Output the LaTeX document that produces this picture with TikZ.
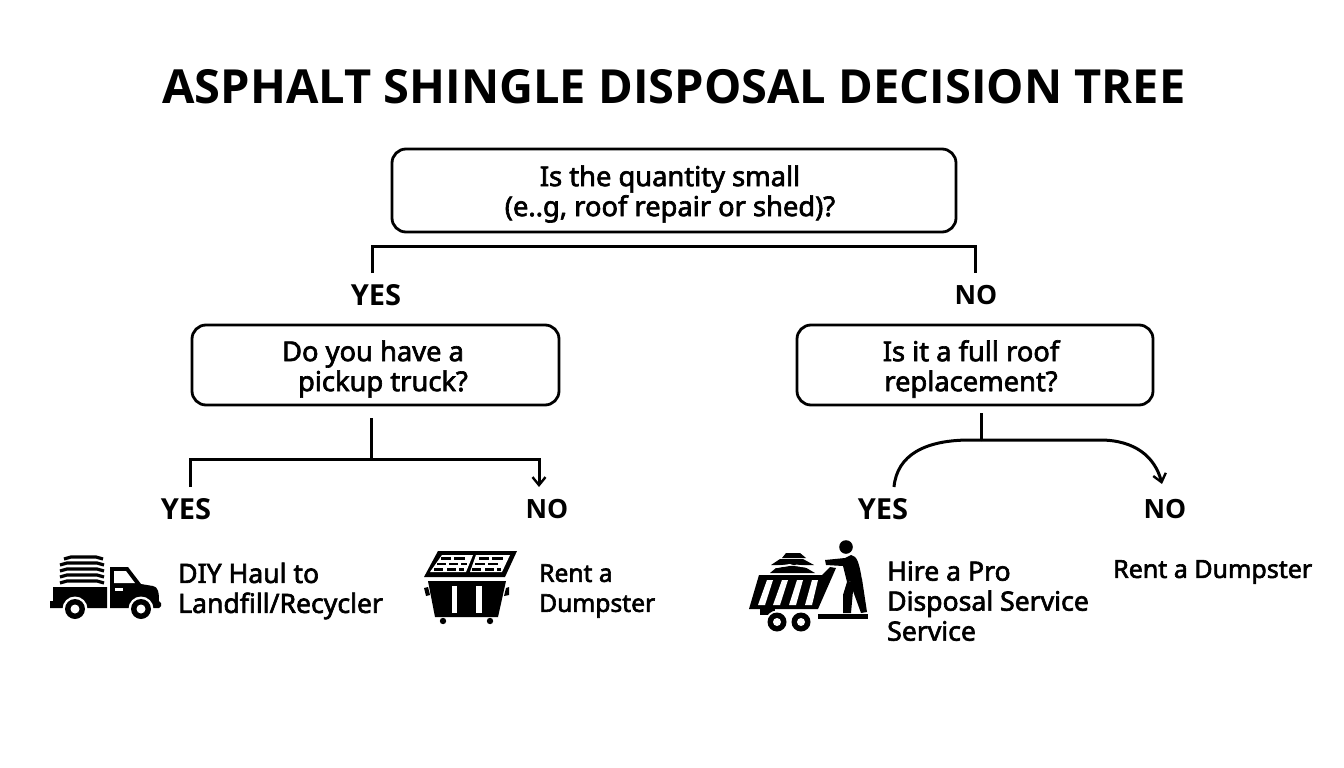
\documentclass[tikz,border=0pt]{standalone}
\usepackage{fontspec}
\setmainfont{Noto Sans}
\newfontfamily\ttlfont{Open Sans}
\newfontfamily\medfont[FakeBold=2.4]{Noto Sans}
\usetikzlibrary{arrows.meta}
\tikzset{
  x=1pt,y=-1pt,
  qbox/.style={draw=black,line width=2.8pt,rounded corners=14pt,fill=white,inner sep=0pt},
  conn/.style={draw=black,line width=3pt},
  arr/.style={conn,-{Straight Barb[length=8pt,width=13pt,line width=2.4pt]}},
  body/.style={font=\medfont\fontsize{27.3}{30}\selectfont,align=center,inner sep=0pt,text=black},
  laby/.style={font=\ttlfont\fontsize{29}{30}\bfseries,inner sep=0pt,text=black},
  labn/.style={font=\ttlfont\fontsize{26.5}{30}\bfseries,inner sep=0pt,text=black},
  res/.style={font=\medfont\fontsize{26.6}{30}\selectfont,align=left,inner sep=0pt,anchor=west,text=black},
  resb/.style={res,font=\medfont\fontsize{24.6}{30}\selectfont},
  resc/.style={res,font=\medfont\fontsize{25}{30}\selectfont},
  ink/.style={fill=black,draw=none},
  wht/.style={fill=white,draw=none},
}
\begin{document}
\begin{tikzpicture}
\useasboundingbox (0,0) rectangle (1344,768);
\fill[white] (0,0) rectangle (1344,768);
\node[inner sep=0pt,font=\ttlfont\fontsize{47}{50}\bfseries,text=black] (title) at (674,87) {ASPHALT SHINGLE DISPOSAL DECISION TREE};
% question boxes
\draw[qbox] (392,149) rectangle (956,232);
\node[body] (q1t) at (670,194) {Is the quantity small\\(e..g, roof repair or shed)?};
\draw[qbox] (192,325) rectangle (559,405);
\node[body] (q2t) at (373,369) {Do you have a\\\hspace*{20pt}pickup truck?};
\draw[qbox] (797,325) rectangle (1153,405);
\node[body] (q3t) at (971,369) {Is it a full roof\\replacement?};
% labels
\node[laby] (y1) at (376,295) {YES};
\node[labn] (n1) at (976,295) {NO};
\node[laby] (y2) at (186,509) {YES};
\node[labn] (n2) at (547,509) {NO};
\node[laby] (y3) at (883,509) {YES};
\node[labn] (n3) at (1165,509) {NO};
% connectors
\coordinate (t1) at (372,273);
\coordinate (t2) at (975,273);
\coordinate (c1) at (372,246);
\coordinate (c2) at (975,246);
\draw[conn] (t1) -- (c1) -- (c2) -- (t2);
\coordinate (s2) at (371,418);
\coordinate (j2) at (371,459);
\coordinate (l2) at (190,487);
\coordinate (r2) at (539,487);
\draw[conn] (s2) -- (j2);
\draw[conn] (l2) |- (j2);
\draw[arr] (j2) -| (r2);
\coordinate (s3) at (981,413);
\coordinate (j3) at (981,440);
\coordinate (l3) at (894,487);
\coordinate (r3) at (1162,484);
\draw[conn] (s3) -- (j3);
\draw[conn] (l3) .. controls (897,455) and (925,440) .. (970,440) -- (j3);
\draw[arr] (j3) -- (1100,440) .. controls (1135,440) and (1155,457) .. (r3);
% results
\node[res] (r1t) at (178,591) {DIY Haul to\\Landfill/Recycler};
\node[resb] (r2t) at (539,591) {Rent a\\Dumpster};
\node[res] (r3t) at (887,601) {Hire a Pro\\Disposal Service\\Service};
\node[resc] (r4t) at (1113,572) {Rent a Dumpster};
% truck icon
\begin{scope}
\fill[ink] (53,587) -- (107,587) -- (107,608) -- (50,608) -- (50,601) -- (53,601) -- cycle;
\fill[ink] (110,567) -- (128,567) -- (141,584) -- (153,586) .. controls (158,587) and (159,592) .. (159,601) -- (161,603) -- (161,606) -- (159,608) -- (110,608) -- cycle;
\fill[wht] (114,571) -- (126,571) -- (135,583) -- (114,583) -- cycle;
\fill[wht] (115,588) rectangle (123,591);
\foreach \yy/\xa/\xb in {557/64/103,563/60/104,569/60/104,575/60/104,581/60/104}{
  \draw[line width=3.2pt,black] (\xa,\yy+2) -- (\xa+7,\yy) -- (\xb-7,\yy) -- (\xb,\yy+2);
}
\foreach \cx in {75,141}{
  \fill[white] (\cx,609) circle (12.5);
  \fill[black] (\cx,609) circle (10);
  \fill[white] (\cx,609) circle (4.5);
}
\end{scope}
% dumpster icon
\begin{scope}
\fill[ink] (438,551) -- (517,551) -- (505,577) -- (424,577) -- cycle;
\fill[wht] (442,555) -- (473,555) -- (466,572) -- (430,572) -- cycle;
\fill[wht] (476,555) -- (510,555) -- (502,572) -- (470,572) -- cycle;
\foreach \xa/\yy/\ww in {441/557/10,454/557/11,437/562.5/9,449/562.5/9,461/562.5/6,434/568/9,447/568/9,459/568/5,479/557/10,492/557/11,475/562.5/10,488/562.5/10,472/568/9,485/568/9,497/568/4}{
  \fill[black] (\xa,\yy) rectangle (\xa+\ww,\yy+2.6);
}
\fill[ink] (428,581) -- (506,581) -- (498,617) -- (435,617) -- cycle;
\fill[wht] (452,586) rectangle (457,613);
\fill[wht] (476,586) rectangle (482,613);
\fill[ink] (424,588) -- (428,587) -- (430,595) -- (426,596) -- cycle;
\fill[ink] (506,588) -- (509,587) -- (509,595) -- (504,596) -- cycle;
\fill[ink] (443,621) circle (3.2);
\fill[ink] (490,621) circle (3.2);
\end{scope}
% cart and worker icon
\begin{scope}
\fill[ink] (759,575) -- (822,575) -- (830,567) -- (836,568) -- (818,609) -- (749,609) -- cycle;
\foreach \xta/\xba in {767/758,782/773,797/789,812/805}{
  \fill[wht] (\xta,580) -- (\xta+6,580) -- (\xba+7,605) -- (\xba,605) -- cycle;
}
\fill[ink] (770,573) -- (776,568) -- (790,566) -- (803,566) -- (815,573) -- cycle;
\fill[ink] (771,565) -- (780,559) -- (803,559) -- (814,565) -- cycle;
\fill[ink] (786,553) -- (800,553) -- (806,558) -- (782,558) -- cycle;
\fill[wht] (773,566.5) -- (790,564) -- (793,565) -- (776,568) -- cycle;
\fill[wht] (796,564.5) -- (809,566.5) -- (808,568) -- (795,566) -- cycle;
\fill[ink] (846,547) circle (6.8);
\fill[ink] (825,560) -- (845,558) -- (851,555) .. controls (857,556) and (859,562) .. (862,580) -- (847,582) -- (843,566) -- (826,565) -- cycle;
\fill[ink] (847,582) -- (862,579) -- (867,612) -- (861,613) -- (853,591) -- (851,613) -- (843,613) -- (843,595) -- cycle;
\fill[ink] (818,614) rectangle (868,619);
\fill[ink] (760,609) rectangle (775,615);
\foreach \cx in {777,801}{
  \fill[white] (\cx,622) circle (11.5);
  \fill[black] (\cx,622) circle (9.5);
  \fill[white] (\cx,622) circle (4);
}
\end{scope}
\end{tikzpicture}
\end{document}
